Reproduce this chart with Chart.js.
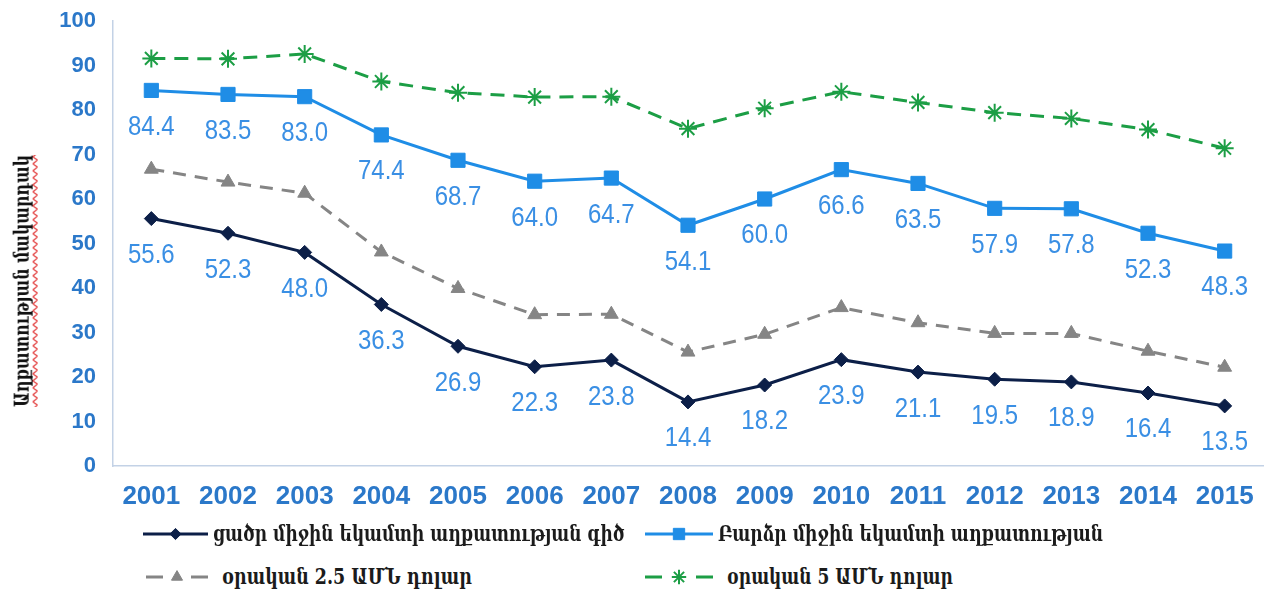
<!DOCTYPE html>
<html>
<head>
<meta charset="utf-8">
<script src="https://cdn.jsdelivr.net/npm/chart.js@4.4.1/dist/chart.umd.min.js"></script>
<style>
html,body{margin:0;padding:0;background:#fff;width:1274px;height:591px;overflow:hidden;}
#wrap{position:absolute;left:0;top:0;width:1274px;height:512px;}
#ytitle{position:absolute;left:22px;top:281px;transform:translate(-50%,-50%) rotate(-90deg) scaleY(1.25);white-space:nowrap;
  font-family:"DejaVu Serif";font-weight:bold;font-size:15px;color:#111;line-height:1;
  text-decoration:underline wavy #e23a3a;text-decoration-thickness:1px;text-underline-offset:3px;}
.legtext{position:absolute;white-space:nowrap;font-family:"DejaVu Serif";font-weight:bold;color:#1b1b1b;line-height:1;transform-origin:left center;}
.legsw{position:absolute;}
</style>
</head>
<body>
<div id="wrap"><canvas id="c" width="1274" height="512"></canvas></div>
<div id="ytitle">Աղքատության մակարդակ</div>
<div id="legend"></div>
<script>
// ---- data ----
const years = ['2001','2002','2003','2004','2005','2006','2007','2008','2009','2010','2011','2012','2013','2014','2015'];
const lowMiddleLine  = [55.6, 52.3, 48.0, 36.3, 26.9, 22.3, 23.8, 14.4, 18.2, 23.9, 21.1, 19.5, 18.9, 16.4, 13.5];
const highMiddleLine = [84.4, 83.5, 83.0, 74.4, 68.7, 64.0, 64.7, 54.1, 60.0, 66.6, 63.5, 57.9, 57.8, 52.3, 48.3];
const usd25PerDay    = [66.7, 63.8, 61.3, 48.1, 39.9, 34.0, 34.1, 25.6, 29.6, 35.6, 32.2, 29.8, 29.8, 25.8, 22.2];
const usd5PerDay     = [91.6, 91.5, 92.6, 86.4, 83.9, 82.9, 83.0, 75.8, 80.4, 84.1, 81.7, 79.4, 78.1, 75.6, 71.4];
const seriesNames = [
  'ցածր միջին եկամտի աղքատության գիծ',
  'Բարձր միջին եկամտի աղքատության',
  'օրական 2.5 ԱՄՆ դոլար',
  'օրական 5 ԱՄՆ դոլար'
];
const yMin = 0, yMax = 100, yStep = 10;

// ---- styles ----
const NAVY = '#0c1f48', BLUE = '#1f8de6', GRAY = '#858585', GREEN = '#1c9e45';
const TICK = '#2b78c9', LABEL = '#3a8fe4', AXIS = '#c3d2e6';

const valueLabels = {
  id: 'valueLabels',
  afterDatasetsDraw(chart) {
    const ctx = chart.ctx;
    ctx.save();
    ctx.font = '24px "Liberation Sans", Arial, sans-serif';
    ctx.fillStyle = LABEL;
    ctx.textAlign = 'center';
    ctx.textBaseline = 'middle';
    chart.data.datasets.forEach((ds, di) => {
      if (!ds.showValues) return;
      const meta = chart.getDatasetMeta(di);
      meta.data.forEach((pt, i) => {
        ctx.save();
        ctx.translate(pt.x, pt.y + 37);
        ctx.scale(1, 1.12);
        ctx.fillText(ds.data[i].toFixed(1), 0, 0);
        ctx.restore();
      });
    });
    ctx.restore();
  }
};

const datasets = [
  {label: seriesNames[0], data: lowMiddleLine, borderColor: NAVY, backgroundColor: NAVY,
   borderWidth: 3, pointStyle: 'rectRot', pointRadius: 7, pointBorderWidth: 1, showValues: true},
  {label: seriesNames[1], data: highMiddleLine, borderColor: BLUE, backgroundColor: BLUE,
   borderWidth: 3, pointStyle: 'rect', pointRadius: 10, pointBorderWidth: 1, showValues: true},
  {label: seriesNames[2], data: usd25PerDay, borderColor: GRAY, backgroundColor: GRAY,
   borderWidth: 3, borderDash: [13, 9], pointStyle: 'triangle', pointRadius: 8, pointBorderWidth: 1},
  {label: seriesNames[3], data: usd5PerDay, borderColor: GREEN, backgroundColor: GREEN,
   borderWidth: 3, borderDash: [14, 9], pointStyle: 'star', pointRadius: 9, pointBorderWidth: 2}
];
datasets.forEach(d => { d.tension = 0; d.fill = false; d.pointBorderColor = d.borderColor; });

const chart = new Chart(document.getElementById('c'), {
  type: 'line',
  data: {labels: years, datasets},
  options: {
    responsive: false,
    animation: false,
    layout: {padding: {top: 21, right: 4, left: 0, bottom: 0}},
    plugins: {legend: {display: false}, tooltip: {enabled: false}},
    scales: {
      x: {
        offset: true,
        grid: {display: false, drawTicks: false},
        border: {color: AXIS, width: 1.5},
        ticks: {color: TICK, font: {family: '"Liberation Sans", Arial', size: 26, weight: 'bold'},
                padding: 15, maxRotation: 0, autoSkip: false},
        afterFit(s) { s.height = 46; s.paddingLeft = 0; s.paddingRight = 0; }
      },
      y: {
        min: yMin, max: yMax,
        grid: {display: false, drawTicks: false},
        border: {color: AXIS, width: 1.5},
        ticks: {stepSize: yStep, color: TICK, font: {family: '"Liberation Sans", Arial', size: 22, weight: 'bold'},
                padding: 17},
        afterFit(s) { s.width = 113; s.paddingTop = 0; s.paddingBottom = 0; }
      }
    }
  },
  plugins: [valueLabels]
});

// ---- HTML legend ----
const legendLayout = [
  {sw: [143, 208], text: 213, w: 412, y: 534, split: false},
  {sw: [645, 713], text: 718, w: 385, y: 534, split: false},
  {sw: [146, 208], text: 222, w: 250, y: 577, split: true},
  {sw: [645, 713], text: 727, w: 226, y: 577, split: true}
];
const legend = document.getElementById('legend');
datasets.forEach((ds, i) => {
  const L = legendLayout[i];
  const cw = L.sw[1] - L.sw[0] + 20, ch = 24;
  const cv = document.createElement('canvas');
  cv.width = cw; cv.height = ch; cv.className = 'legsw';
  cv.style.left = (L.sw[0] - 10) + 'px'; cv.style.top = (L.y - ch / 2) + 'px';
  legend.appendChild(cv);
  const c = cv.getContext('2d');
  const x0 = 10, x1 = cw - 10, xm = (x0 + x1) / 2, ym = ch / 2;
  c.strokeStyle = ds.borderColor; c.fillStyle = ds.backgroundColor; c.lineWidth = 3;
  c.beginPath();
  if (L.split) {
    c.moveTo(x0, ym); c.lineTo(x0 + 17, ym);
    c.moveTo(x1 - 17, ym); c.lineTo(x1, ym);
  } else {
    c.moveTo(x0, ym); c.lineTo(x1, ym);
  }
  c.stroke();
  c.lineWidth = ds.pointBorderWidth;
  Chart.helpers.drawPoint(c, {pointStyle: ds.pointStyle, radius: ds.pointRadius * 0.8, rotation: 0,
    borderWidth: ds.pointBorderWidth}, xm, ym);

  const t = document.createElement('div');
  t.className = 'legtext';
  t.textContent = ds.label;
  t.style.fontSize = '16px';
  legend.appendChild(t);
  const w = t.getBoundingClientRect().width;
  const fs = 16 * L.w / w;
  t.style.fontSize = fs.toFixed(2) + 'px';
  const h = t.getBoundingClientRect().height;
  t.style.left = L.text + 'px';
  t.style.top = (L.y - h / 2) + 'px';
  t.style.transform = 'scaleY(1.3)';
});

// fit y title to its length in the reference
(function () {
  const el = document.getElementById('ytitle');
  const w = el.getBoundingClientRect().height;
  el.style.fontSize = (15 * 252 / w).toFixed(2) + 'px';
})();
</script>
</body>
</html>
